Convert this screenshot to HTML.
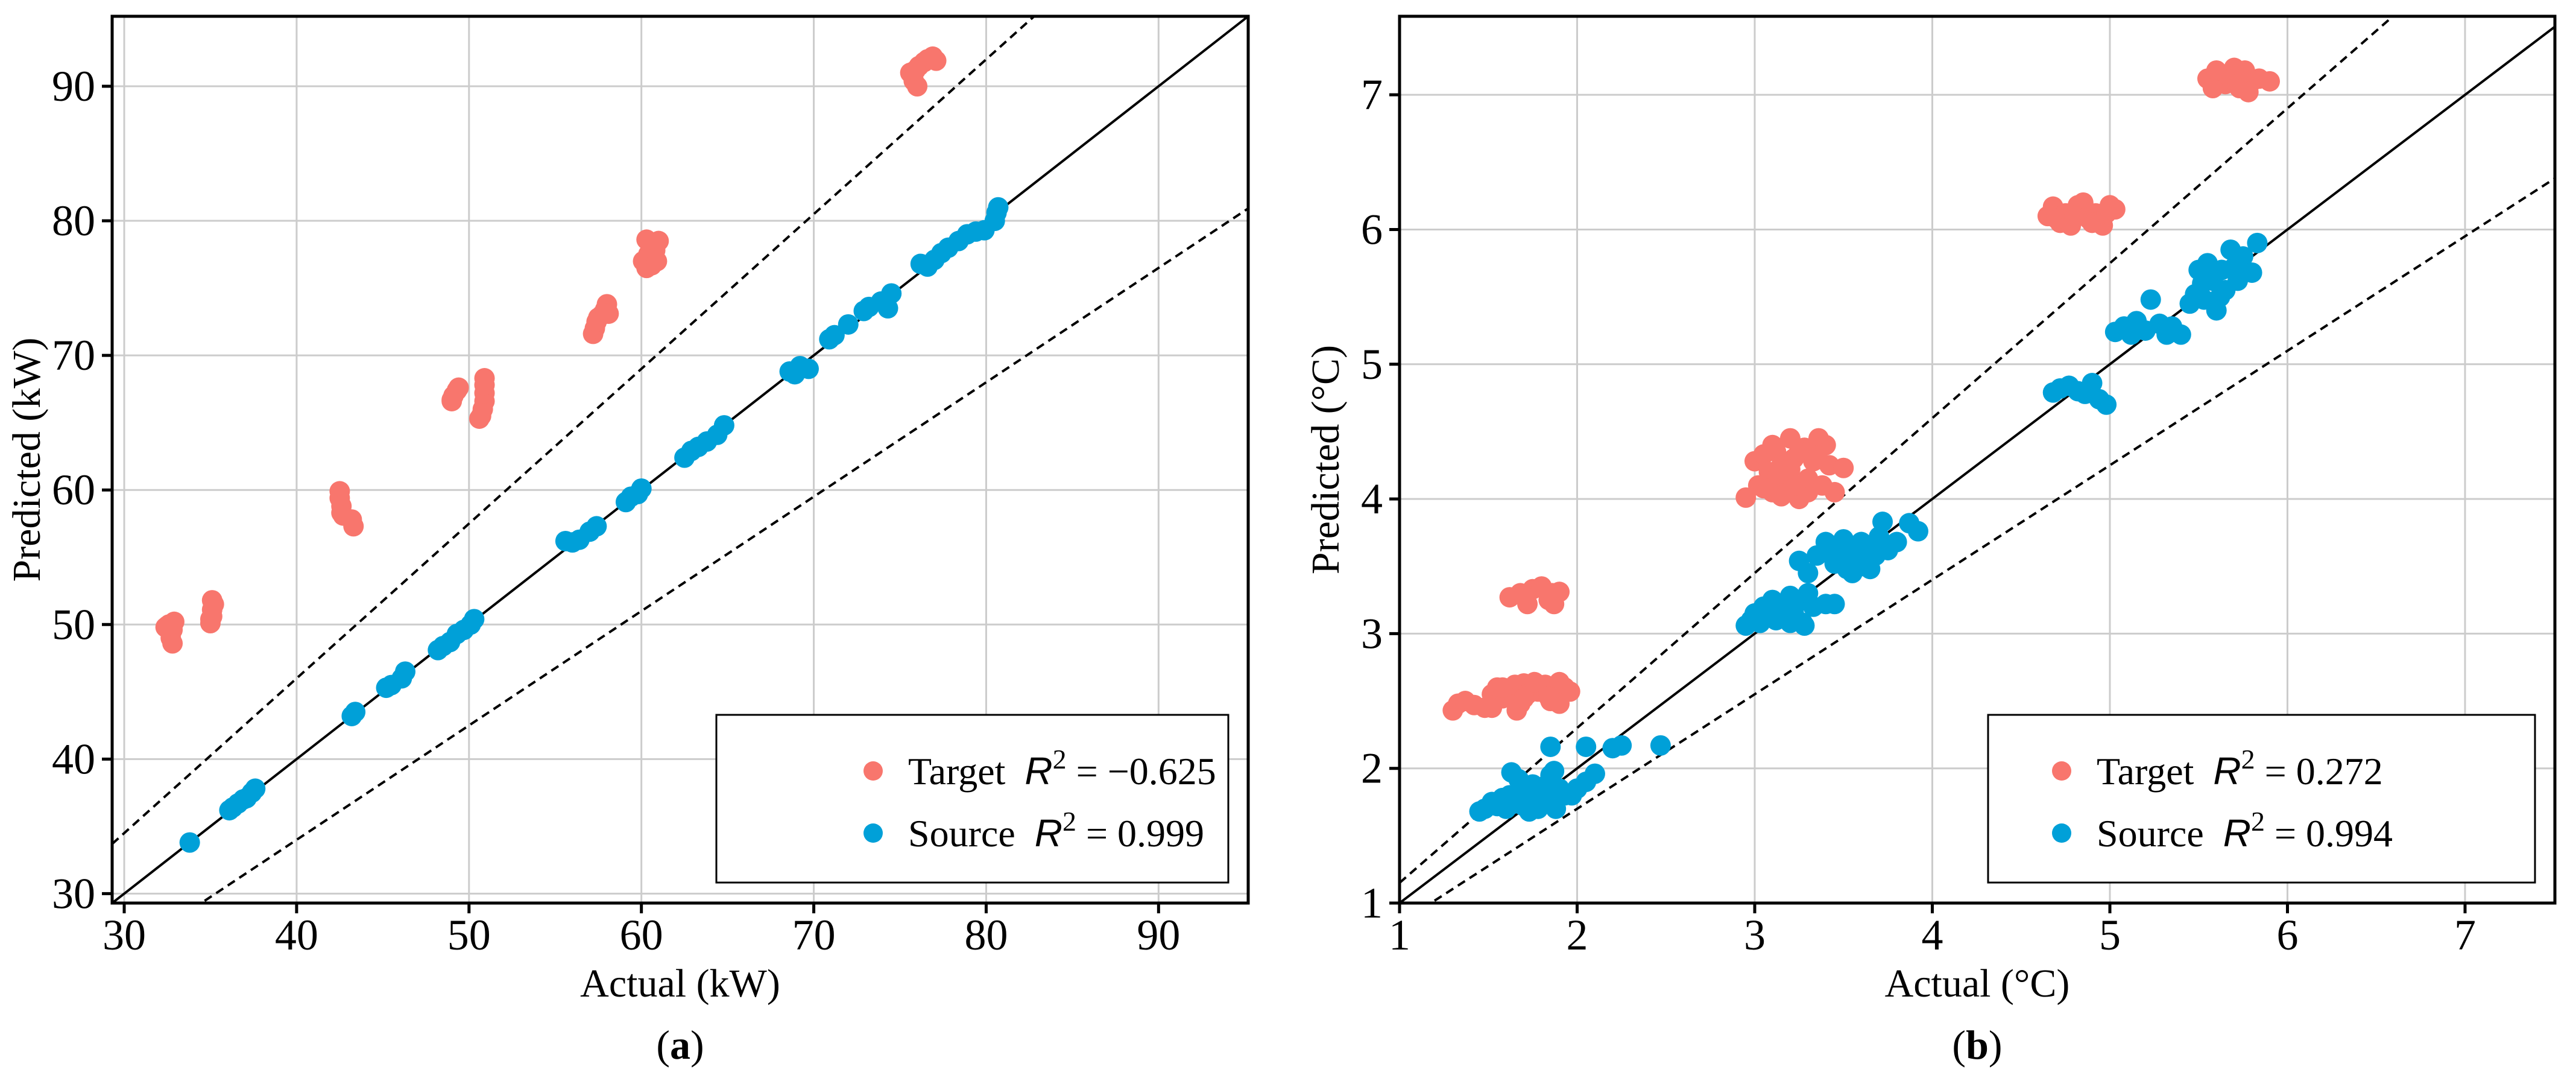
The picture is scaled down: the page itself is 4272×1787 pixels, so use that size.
<!DOCTYPE html>
<html><head><meta charset="utf-8"><style>
html,body{margin:0;padding:0;background:#fff}
svg{display:block}
text{font-family:"Liberation Serif",serif;fill:#000}
</style></head><body>
<svg id="chart" width="4272" height="1787" viewBox="0 0 4272 1787" xmlns="http://www.w3.org/2000/svg">
<g id="pa"></g>
<g id="pb"></g>
</svg>
<script>
// Panel a data (kW)
const aTicks = [30,40,50,60,70,80,90];
const aTargetX = [32.4,32.6,32.8,32.9,32.7,32.8,32.5,35.0,35.1,35.1,35.2,35.1,35.0,42.5,42.5,42.6,42.6,42.7,43.2,43.3,49.0,49.1,49.3,49.4,49.0,50.7,50.8,50.9,50.9,50.9,50.9,50.6,57.2,57.3,57.4,57.5,57.7,57.9,58.0,58.1,60.1,60.3,60.4,60.5,60.6,60.8,61.0,60.9,60.3,75.6,75.8,76.0,76.1,76.4,76.6,76.9,77.1,75.9];
const aTargetY = [49.8,50.0,49.6,50.2,49.0,48.6,49.9,50.1,50.6,51.1,51.5,51.8,50.4,59.9,59.4,58.8,58.3,58.1,57.8,57.3,66.7,67.0,67.4,67.6,66.6,65.5,66.0,66.6,67.2,67.8,68.3,65.3,71.6,72.0,72.5,72.8,73.0,73.4,73.8,73.1,77.0,76.5,77.5,78.3,76.7,77.8,78.5,77.0,78.6,91.0,90.4,90.0,91.5,91.8,92.0,92.2,91.9,91.2];
const aSourceX = [33.8,36.1,36.3,36.6,36.9,37.1,37.4,37.6,43.2,43.4,45.2,45.5,46.1,46.3,48.2,48.5,48.9,49.3,49.7,50.1,50.3,55.6,56.0,56.4,57.0,57.4,59.1,59.4,59.8,60.0,62.5,62.9,63.3,63.8,64.4,64.8,68.6,68.9,69.2,69.7,70.9,71.2,72.0,72.9,73.2,73.9,74.3,74.5,76.2,76.6,77.0,77.4,77.8,78.4,78.9,79.4,79.9,80.5,80.6,80.7];
const aSourceY = [33.8,36.2,36.4,36.7,37.0,37.1,37.5,37.8,43.2,43.5,45.3,45.5,46.0,46.5,48.1,48.4,48.7,49.3,49.6,50.0,50.4,56.2,56.1,56.3,56.9,57.3,59.1,59.5,59.7,60.1,62.4,62.9,63.2,63.6,64.1,64.8,68.8,68.6,69.2,69.0,71.2,71.5,72.3,73.3,73.6,74.0,73.5,74.6,76.8,76.6,77.1,77.6,78.0,78.5,79.0,79.2,79.3,80.0,80.6,81.0];
// Panel b data (°C)
const bTicks = [1,2,3,4,5,6,7];
const bTargetX = [1.30,1.33,1.37,1.42,1.48,1.52,1.55,1.58,1.62,1.65,1.68,1.70,1.72,1.75,1.78,1.82,1.85,1.88,1.90,1.93,1.96,1.52,1.58,1.66,1.70,1.76,1.84,1.90,
1.62,1.68,1.72,1.75,1.80,1.84,1.87,1.90,1.70,1.86,
2.95,3.00,3.02,3.05,3.08,3.10,3.12,3.15,3.18,3.20,3.22,3.25,3.28,3.30,3.33,3.36,3.38,3.40,3.42,3.45,3.50,3.05,3.10,3.15,3.20,3.25,3.30,3.35,3.13,3.23,
4.65,4.68,4.72,4.75,4.78,4.82,4.85,4.88,4.92,4.96,5.00,5.03,4.70,4.80,4.90,4.98,
5.55,5.58,5.62,5.65,5.68,5.70,5.73,5.76,5.80,5.84,5.90,5.60,5.72,5.78];
const bTargetY = [2.43,2.48,2.50,2.47,2.45,2.55,2.60,2.52,2.58,2.62,2.48,2.63,2.55,2.60,2.57,2.62,2.50,2.58,2.64,2.60,2.57,2.45,2.60,2.43,2.52,2.64,2.53,2.48,
3.27,3.30,3.22,3.33,3.35,3.25,3.22,3.31,3.28,3.30,
4.01,4.28,4.10,4.33,4.20,4.05,4.35,4.25,4.12,4.45,4.30,4.00,4.38,4.15,4.28,4.45,4.10,4.40,4.25,4.05,4.23,4.08,4.40,4.02,4.22,4.35,4.05,4.32,4.18,4.10,
6.10,6.17,6.05,6.12,6.03,6.18,6.20,6.08,6.12,6.03,6.18,6.15,6.08,6.10,6.05,6.12,
7.12,7.05,7.15,7.08,7.12,7.20,7.05,7.18,7.10,7.12,7.10,7.18,7.08,7.02];
const bSourceX = [1.45,1.48,1.52,1.55,1.58,1.60,1.62,1.65,1.68,1.70,1.72,1.75,1.78,1.80,1.82,1.85,1.88,1.90,1.93,1.97,2.00,2.05,2.10,1.67,1.73,1.83,1.87,1.63,1.85,2.05,2.20,2.25,2.47,
2.95,2.98,3.00,3.03,3.05,3.08,3.10,3.12,3.15,3.18,3.20,3.22,3.25,3.28,3.30,3.33,3.40,3.45,3.10,3.20,3.27,
3.25,3.30,3.35,3.40,3.45,3.48,3.50,3.52,3.55,3.58,3.60,3.62,3.65,3.68,3.70,3.72,3.75,3.80,3.87,3.92,3.55,3.65,3.42,
4.68,4.72,4.77,4.82,4.86,4.90,4.94,4.98,
5.03,5.08,5.12,5.15,5.20,5.23,5.28,5.32,5.35,5.40,5.45,5.48,5.50,5.53,5.55,5.58,5.60,5.63,5.65,5.68,5.72,5.75,5.80,5.83,5.52,5.62,5.70];
const bSourceY = [1.68,1.70,1.75,1.72,1.78,1.70,1.80,1.74,1.85,1.72,1.78,1.88,1.70,1.82,1.76,1.95,1.70,1.85,1.80,1.80,1.85,1.90,1.96,1.92,1.68,1.88,1.98,1.97,2.16,2.16,2.15,2.17,2.17,
3.06,3.10,3.15,3.08,3.20,3.12,3.25,3.10,3.18,3.22,3.08,3.15,3.24,3.06,3.30,3.20,3.22,3.22,3.12,3.28,3.08,
3.54,3.45,3.58,3.68,3.52,3.60,3.70,3.48,3.62,3.55,3.68,3.50,3.65,3.58,3.72,3.83,3.62,3.68,3.82,3.76,3.45,3.48,3.60,
4.79,4.82,4.84,4.80,4.78,4.86,4.74,4.70,
5.24,5.28,5.22,5.32,5.25,5.48,5.30,5.22,5.28,5.22,5.45,5.52,5.70,5.48,5.75,5.62,5.40,5.70,5.55,5.85,5.62,5.80,5.68,5.90,5.60,5.50,5.72];

const NS = "http://www.w3.org/2000/svg";
const RED = "#F8766D", BLUE = "#00A0D8";
function mk(tag, attrs, parent){ const e=document.createElementNS(NS,tag); for(const k in attrs) e.setAttribute(k,attrs[k]); parent.appendChild(e); return e; }

function panel(g, cfg){
  const {L,R,T,B,xmin,xmax,ymin,ymax} = cfg;
  const sx = v => L + (v-xmin)/(xmax-xmin)*(R-L);
  const sy = v => B - (v-ymin)/(ymax-ymin)*(B-T);
  cfg.ticks.forEach(t=>{
    if(t>=xmin && t<=xmax){
      const gl = mk('line',{x1:sx(t),x2:sx(t),y1:T,y2:B,stroke:'#cccccc','stroke-width':3},g);
      
      
    }
    if(t>=ymin && t<=ymax){
      const gl = mk('line',{x1:L,x2:R,y1:sy(t),y2:sy(t),stroke:'#cccccc','stroke-width':3},g);
      
      
    }
  });
  const clip = 'clip'+cfg.id;
  const cp = mk('clipPath',{id:clip},g); mk('rect',{x:L,y:T,width:R-L,height:B-T},cp);
  const lines = mk('g',{'clip-path':'url(#'+clip+')'},g);
  [[1,'none','identity-line'],[1.15,'14,9','upper-15pct-line'],[0.85,'14,9','lower-15pct-line']].forEach(([k,d,n])=>{
    const ln = mk('line',{x1:sx(xmin),y1:sy(k*xmin),x2:sx(xmax),y2:sy(k*xmax),stroke:'#000','stroke-width':4,'stroke-dasharray':d},lines);
    
    
  });
  const pts = mk('g',{'clip-path':'url(#'+clip+')'},g);
  cfg.tx.forEach((x,i)=>{
    const c = mk('circle',{cx:sx(x),cy:sy(cfg.ty[i]),r:17,fill:RED},pts);
    
    
  });
  cfg.sx.forEach((x,i)=>{
    const c = mk('circle',{cx:sx(x),cy:sy(cfg.sy[i]),r:17,fill:BLUE},pts);
    
    
  });
  const fr = mk('rect',{x:L,y:T,width:R-L,height:B-T,fill:'none',stroke:'#000','stroke-width':5},g);
  
  
  cfg.ticks.forEach(t=>{
    if(t>=xmin && t<=xmax){
      mk('line',{x1:sx(t),x2:sx(t),y1:B,y2:B+17,stroke:'#000','stroke-width':5},g);
      const tx = mk('text',{x:sx(t),y:1574,'font-size':72,'text-anchor':'middle'},g);
      tx.textContent = t;
      
      
    }
    if(t>=ymin && t<=ymax){
      mk('line',{x1:L-17,x2:L,y1:sy(t),y2:sy(t),stroke:'#000','stroke-width':5},g);
      const ty = mk('text',{x:L-28,y:sy(t)+24,'font-size':72,'text-anchor':'end'},g);
      ty.textContent = t;
      
      
    }
  });
  const xt = mk('text',{x:(L+R)/2,y:1652,'font-size':66,'text-anchor':'middle'},g);
  xt.textContent = cfg.xlabel;
  
  
  const yt = mk('text',{x:0,y:0,'font-size':66,'text-anchor':'middle',transform:`translate(${cfg.ylx},${(T+B)/2}) rotate(-90)`},g);
  yt.textContent = cfg.ylabel;
  
  
  const lg = mk('g',{},g);
  
  
  mk('rect',{x:cfg.lgx,y:1185,width:R-33-cfg.lgx,height:278,fill:'#fff',stroke:'#000','stroke-width':3},lg);
  [[RED,'Target',cfg.r2t,1278],[BLUE,'Source',cfg.r2s,1381]].forEach(([col,name,val,yy])=>{
    const le = mk('g',{},lg);
    
    
    mk('circle',{cx:cfg.lgx+cfg.mOff,cy:yy,r:16,fill:col},le);
    const t = mk('text',{x:cfg.lgx+cfg.tOff,y:yy+22,'font-size':64},le);
    t.innerHTML = `${name}&#160;&#160;<tspan font-style="italic" font-family="Liberation Sans">R</tspan><tspan dy="-26" font-size="46">2</tspan><tspan dy="26"> = ${val}</tspan>`;
  });
  const pl = mk('text',{x:(L+R)/2,y:1755,'font-size':68,'text-anchor':'middle'},g);
  pl.innerHTML = `(<tspan font-weight="bold">${cfg.letter}</tspan>)`;
  
  
}

panel(document.getElementById('pa'),{id:'a',L:186,R:2070,T:27,B:1497,xmin:29.3,xmax:95.2,ymin:29.3,ymax:95.2,ticks:aTicks,
  tx:aTargetX,ty:aTargetY,sx:aSourceX,sy:aSourceY,xlabel:'Actual (kW)',ylabel:'Predicted (kW)',ylx:66,
  lgx:1188,mOff:260,tOff:318,r2t:'\u22120.625',r2s:'0.999',letter:'a'});
panel(document.getElementById('pb'),{id:'b',L:2321,R:4237,T:27,B:1497,xmin:1,xmax:7.506,ymin:1,ymax:7.583,ticks:bTicks,
  tx:bTargetX,ty:bTargetY,sx:bSourceX,sy:bSourceY,xlabel:'Actual (\u00B0C)',ylabel:'Predicted (\u00B0C)',ylx:2220,
  lgx:3297,mOff:122,tOff:180,r2t:'0.272',r2s:'0.994',letter:'b'});
</script>
</body></html>
